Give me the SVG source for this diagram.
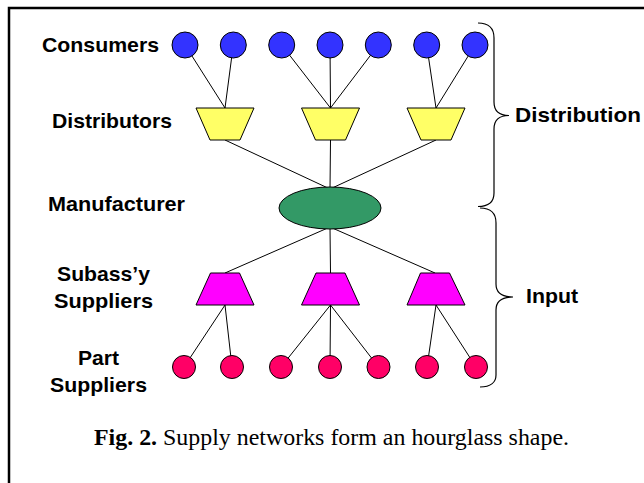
<svg xmlns="http://www.w3.org/2000/svg" width="644" height="483" viewBox="0 0 644 483">
<style>
.lbl{font-family:"Liberation Sans",Arial,sans-serif;font-weight:bold;font-size:21px;fill:#000}
.cap{font-family:"Liberation Serif","Times New Roman",serif;font-size:24px;fill:#000}
.edge{stroke:#000;stroke-width:1;fill:none}
.brace{stroke:#000;stroke-width:1.2;fill:none}
.cons{fill:#3333FF;stroke:#000;stroke-width:1}
.dist{fill:#FFFF66;stroke:#000;stroke-width:1}
.manu{fill:#339966;stroke:#000;stroke-width:1}
.sub{fill:#FF00FF;stroke:#000;stroke-width:1}
.part{fill:#FF0066;stroke:#000;stroke-width:1}
</style>
<rect width="644" height="483" fill="#fff"/>
<path d="M9,483 V8 H644" fill="none" stroke="#000" stroke-width="2.5"/>
<g id="connectors">
<path class="edge" d="M185,45 L225,108 M233.3,45 L225,108 M281.7,45 L330.5,108 M330,45 L330.5,108 M378.3,45 L330.5,108 M426.7,45 L436,108 M475,45 L436,108"/>
<path class="edge" d="M225,140 L330,189 M330.5,140 L330,189 M436,140 L330,189"/>
<path class="edge" d="M330,227 L225,273 M330,227 L330.5,273 M330,227 L435,273"/>
<path class="edge" d="M225,305 L184,367 M225,305 L232,367 M330.5,305 L281,367 M330.5,305 L330,367 M330.5,305 L378.5,367 M436,305 L427,367 M436,305 L476,367"/>
</g>
<g id="consumers">
<circle class="cons" cx="185" cy="45" r="13"/>
<circle class="cons" cx="233.3" cy="45" r="13"/>
<circle class="cons" cx="281.7" cy="45" r="13"/>
<circle class="cons" cx="330" cy="45" r="13"/>
<circle class="cons" cx="378.3" cy="45" r="13"/>
<circle class="cons" cx="426.7" cy="45" r="13"/>
<circle class="cons" cx="475" cy="45" r="13"/>
</g>
<g id="distributors">
<polygon class="dist" points="196,108 254,108 240,140 210,140"/>
<polygon class="dist" points="301.5,108 359.5,108 345.5,140 315.5,140"/>
<polygon class="dist" points="407,108 465,108 451,140 421,140"/>
</g>
<g id="manufacturer">
<ellipse class="manu" cx="330" cy="208" rx="51" ry="21"/>
</g>
<g id="subassembly-suppliers">
<polygon class="sub" points="210.5,273 239.5,273 254,305 196,305"/>
<polygon class="sub" points="316,273 345,273 359.5,305 301.5,305"/>
<polygon class="sub" points="420.5,273 449.5,273 465,305 407,305"/>
</g>
<g id="part-suppliers">
<circle class="part" cx="184" cy="367" r="11.5"/>
<circle class="part" cx="232" cy="367" r="11.5"/>
<circle class="part" cx="281" cy="367" r="11.5"/>
<circle class="part" cx="330" cy="367" r="11.5"/>
<circle class="part" cx="378.5" cy="367" r="11.5"/>
<circle class="part" cx="427" cy="367" r="11.5"/>
<circle class="part" cx="476" cy="367" r="11.5"/>
</g>
<g id="braces">
<path class="brace" d="M478,23 C489,23 494,28 494,38 V102 C494,110 498,115.5 509,115.5 C498,115.5 494,121 494,129 V193 C494,202 489,206.5 478,206.5"/>
<path class="brace" d="M480,208 C490,208 496,213 496,223 V284 C496,292 500,297 513,297 C500,297 496,302 496,310 V375 C496,382 491,387 480,387"/>
</g>
<g id="labels">
<text class="lbl" x="42" y="52" textLength="117" lengthAdjust="spacingAndGlyphs">Consumers</text>
<text class="lbl" x="52" y="128" textLength="120" lengthAdjust="spacingAndGlyphs">Distributors</text>
<text class="lbl" x="48" y="211" textLength="137" lengthAdjust="spacingAndGlyphs">Manufacturer</text>
<text class="lbl" x="57" y="281" textLength="93" lengthAdjust="spacingAndGlyphs">Subass’y</text>
<text class="lbl" x="54" y="307.5" textLength="99" lengthAdjust="spacingAndGlyphs">Suppliers</text>
<text class="lbl" x="78" y="365" textLength="41" lengthAdjust="spacingAndGlyphs">Part</text>
<text class="lbl" x="50" y="391.5" textLength="97" lengthAdjust="spacingAndGlyphs">Suppliers</text>
<text class="lbl" x="515" y="122" textLength="126" lengthAdjust="spacingAndGlyphs">Distribution</text>
<text class="lbl" x="526" y="303" textLength="52" lengthAdjust="spacingAndGlyphs">Input</text>
</g>
<text class="cap" x="94" y="445" textLength="475" lengthAdjust="spacingAndGlyphs"><tspan font-weight="bold">Fig. 2.</tspan> Supply networks form an hourglass shape.</text>
</svg>
